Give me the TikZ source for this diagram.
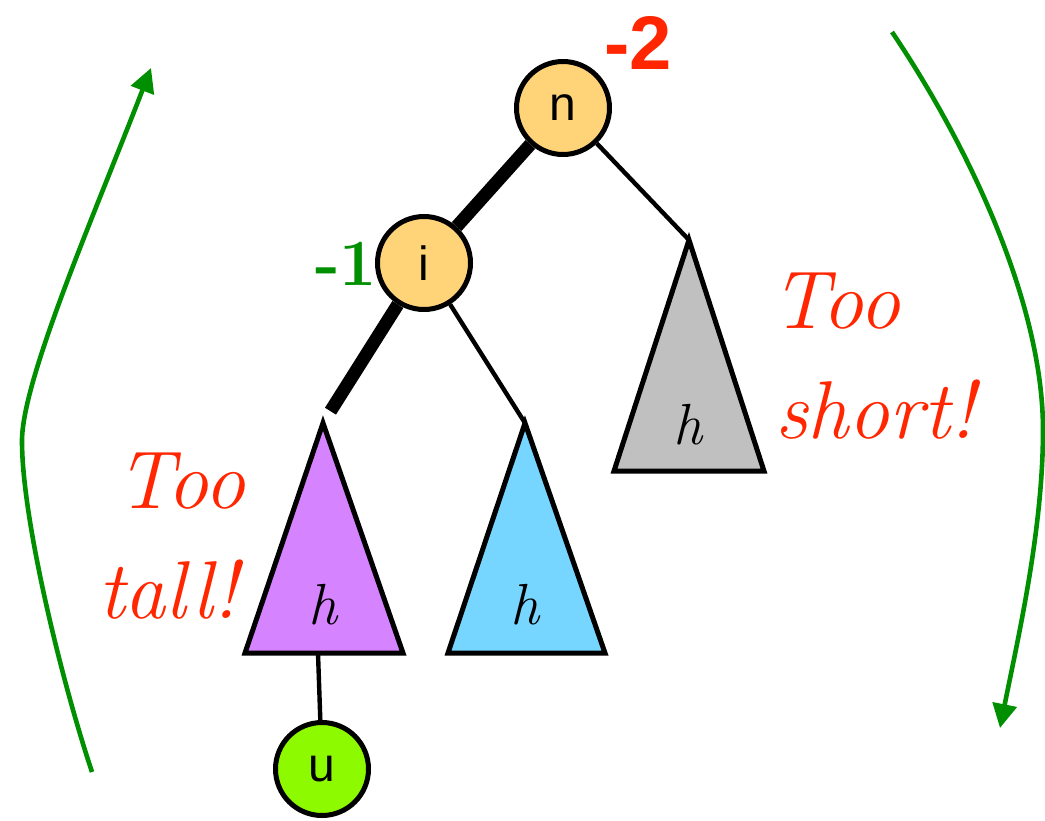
\documentclass[tikz,border=0pt]{standalone}
\usepackage{fontspec}
\newfontfamily\helv{Liberation Sans}
\usetikzlibrary{arrows.meta}
\definecolor{redc}{RGB}{255,38,0}
\definecolor{greenc}{RGB}{0,143,0}
\definecolor{nodeor}{RGB}{255,212,121}
\definecolor{ugreen}{RGB}{142,250,0}
\definecolor{purp}{RGB}{214,131,255}
\definecolor{bluec}{RGB}{118,214,255}
\definecolor{grayc}{RGB}{192,192,192}
\tikzset{
  circ/.style={circle, draw=black, line width=2.5pt, minimum size=46.5pt, inner sep=0pt,
    font=\helv\fontsize{24}{24}\selectfont},
  tri/.style={draw=black, line width=2.5pt},
  thinedge/.style={draw=black, line width=2.2pt},
  thickedge/.style={draw=black, line width=6.5pt},
  hlabel/.style={inner sep=0pt, font=\itshape\fontsize{29}{29}\selectfont},
  remark/.style={inner sep=0pt, anchor=base, text=redc, font=\itshape\fontsize{41}{41}\selectfont},
  garrow/.style={draw=greenc, line width=2.3pt, -{Triangle[length=12pt,width=12pt]}}
}
\begin{document}
\begin{tikzpicture}[x=0.5pt,y=-0.5pt]
\useasboundingbox (0,0) rectangle (1045,820);
% triangle corners
\coordinate (pa) at (323,423); \coordinate (pl) at (245,653); \coordinate (pr) at (403,653);
\coordinate (ba) at (525,423); \coordinate (bl) at (448,653); \coordinate (br) at (605,653);
\coordinate (ga) at (689,240); \coordinate (gl) at (614,471); \coordinate (gr) at (764,471);
\coordinate (pb) at (318,653);
% subtrees
\draw[tri, fill=purp] (pa) -- (pl) -- (pr) -- cycle;
\draw[tri, fill=bluec] (ba) -- (bl) -- (br) -- cycle;
\draw[tri, fill=grayc] (ga) -- (gl) -- (gr) -- cycle;
% nodes
\node[circ, fill=nodeor] (n) at (563,108) {n};
\node[circ, fill=nodeor] (i) at (424,263) {i};
\node[circ, fill=ugreen] (u) at (322,769) {u};
% edges
\draw[thickedge] (n) -- (i);
\draw[thickedge, shorten >=7pt] (i) -- (pa);
\draw[thinedge] (n) -- (ga);
\draw[thinedge] (i) -- (ba);
\draw[thinedge] (pb) -- (u);
% h labels
\node[hlabel] (hp) at (323,605) {h};
\node[hlabel] (hb) at (525,605) {h};
\node[hlabel] (hg) at (688,425) {h};
% balance factors
\node[inner sep=0pt, text=redc, font=\helv\bfseries\fontsize{38}{38}\selectfont] (bn) at (638,43) {-2};
\node[inner sep=0pt, text=greenc, font=\rmfamily\bfseries\fontsize{33}{33}\selectfont] (bi) at (346,264) {-1};
% remarks
\node[remark] (t1) at (181,508) {Too};
\node[remark] (t2) at (168,618) {tall!};
\node[remark] (s1) at (836,328) {Too};
\node[remark] (s2) at (875,438) {short!};
% green arrows
\coordinate (la) at (92,772); \coordinate (lm) at (22,441); \coordinate (lb) at (151,68);
\draw[garrow] (la) .. controls (62,682) and (22,520) .. (lm) .. controls (22,380) and (93,218) .. (lb);
\coordinate (ra) at (892,32); \coordinate (rm) at (1043,430); \coordinate (rb) at (1000,728);
\draw[garrow] (ra) .. controls (965,140) and (1043,300) .. (rm) .. controls (1043,530) and (1018,638) .. (rb);
\end{tikzpicture}
\end{document}
